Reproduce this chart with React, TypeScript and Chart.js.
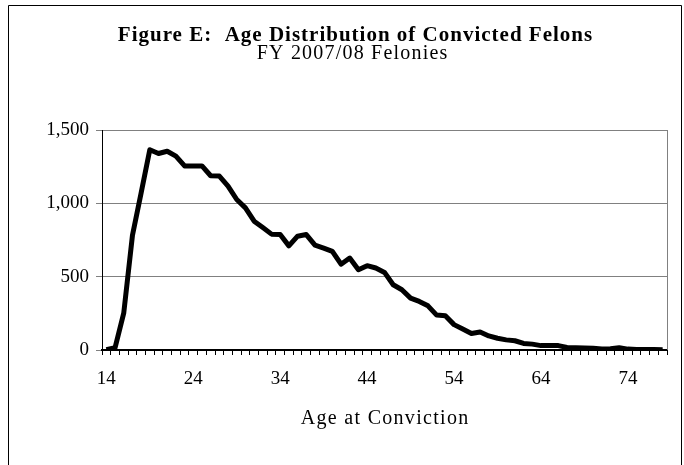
import React, { useEffect, useRef } from 'react';
import { Chart, registerables } from 'chart.js';

Chart.register(...registerables);

const ages = [
  '14', '15', '16', '17', '18', '19', '20', '21', '22', '23',
  '24', '25', '26', '27', '28', '29', '30', '31', '32', '33',
  '34', '35', '36', '37', '38', '39', '40', '41', '42', '43',
  '44', '45', '46', '47', '48', '49', '50', '51', '52', '53',
  '54', '55', '56', '57', '58', '59', '60', '61', '62', '63',
  '64', '65', '66', '67', '68', '69', '70', '71', '72', '73',
  '74', '75', '76', '77', '78',
];

const convictedFelons = [
  2, 15, 251, 780, 1070, 1365, 1340, 1355, 1322, 1255,
  1255, 1255, 1188, 1186, 1118, 1026, 969, 878, 835, 790,
  787, 710, 776, 787, 715, 695, 673, 585, 627, 547,
  575, 559, 529, 445, 411, 354, 331, 301, 238, 233,
  173, 143, 113, 123, 96, 80, 69, 63, 45, 40,
  30, 30, 30, 17, 15, 14, 12, 7, 8, 16,
  6, 4, 4, 3, 2,
];

const xTickLabels = ['14', '24', '34', '44', '54', '64', '74'];
const yTickValues = [0, 500, 1000, 1500];

const titleText = 'Figure E:  Age Distribution of Convicted Felons';
const subtitleText = 'FY 2007/08 Felonies';
const xAxisTitle = 'Age at Conviction';

const FONT = "'Liberation Serif', 'Times New Roman', serif";

function drawSpacedText(ctx: any, text: string, cx: number, cy: number, font: string, spacing: number) {
  ctx.save();
  ctx.font = font;
  ctx.fillStyle = '#000000';
  ctx.textBaseline = 'middle';
  ctx.textAlign = 'left';
  if ('letterSpacing' in ctx) {
    ctx.letterSpacing = spacing + 'px';
    const w = ctx.measureText(text).width - spacing;
    ctx.fillText(text, cx - w / 2, cy);
  } else {
    const w = ctx.measureText(text).width;
    ctx.fillText(text, cx - w / 2, cy);
  }
  ctx.restore();
}

const framePlugin = {
  id: 'frame',
  beforeDraw(chart: any) {
    const ctx = chart.ctx;
    ctx.save();
    ctx.fillStyle = '#ffffff';
    ctx.fillRect(0, 0, chart.width, chart.height);
    ctx.strokeStyle = '#000000';
    ctx.lineWidth = 1;
    ctx.beginPath();
    ctx.moveTo(8.5, chart.height + 5);
    ctx.lineTo(8.5, 5.5);
    ctx.lineTo(681.5, 5.5);
    ctx.lineTo(681.5, chart.height + 5);
    ctx.stroke();
    ctx.restore();
  },
  beforeDatasetsDraw(chart: any) {
    const { ctx, chartArea } = chart;
    ctx.save();
    ctx.strokeStyle = '#808080';
    ctx.lineWidth = 1;
    ctx.beginPath();
    const x = Math.round(chartArea.right) + 0.5;
    ctx.moveTo(x, chartArea.top);
    ctx.lineTo(x, chartArea.bottom);
    ctx.stroke();
    ctx.restore();
  },
  afterDraw(chart: any) {
    const { ctx, chartArea } = chart;
    drawSpacedText(ctx, titleText, 355, 36, `bold 21px ${FONT}`, 1);
    drawSpacedText(ctx, subtitleText, 352, 54, `20px ${FONT}`, 1.2);
    drawSpacedText(ctx, xAxisTitle, (chartArea.left + chartArea.right) / 2, 419, `20px ${FONT}`, 1.3);
  },
};

export default function App() {
  const canvasRef = useRef<HTMLCanvasElement | null>(null);

  useEffect(() => {
    if (!canvasRef.current) return;
    const chart = new Chart(canvasRef.current, {
      type: 'line',
      data: {
        labels: ages,
        datasets: [
          {
            label: 'Convicted Felons',
            data: convictedFelons,
            borderColor: '#000000',
            backgroundColor: '#000000',
            borderWidth: 5,
            borderJoinStyle: 'round',
            pointRadius: 0,
            pointHoverRadius: 0,
            tension: 0,
            fill: false,
          },
        ],
      },
      options: {
        responsive: false,
        animation: false,
        layout: { padding: { left: 39, right: 17, top: 130, bottom: 0 } },
        plugins: {
          legend: { display: false },
          tooltip: { enabled: false },
          title: { display: false },
          subtitle: { display: false },
        },
        scales: {
          x: {
            type: 'category',
            offset: true,
            afterFit(scale: any) {
              scale.height = 115;
            },
            grid: {
              display: true,
              drawOnChartArea: false,
              drawTicks: true,
              tickLength: 5,
              color: '#000000',
              lineWidth: 1,
              offset: true,
            },
            border: { display: true, color: '#000000', width: 2 },
            ticks: {
              autoSkip: false,
              maxRotation: 0,
              minRotation: 0,
              padding: 13,
              color: '#000000',
              font: { family: FONT, size: 19 },
              callback: (_v: any, i: number) => (xTickLabels.includes(ages[i]) ? ages[i] : ''),
            },
            title: { display: false, text: xAxisTitle },
          },
          y: {
            min: 0,
            max: 1500,
            afterFit(scale: any) {
              scale.width = 63;
            },
            afterBuildTicks(scale: any) {
              scale.ticks = yTickValues.map((v) => ({ value: v }));
            },
            grid: {
              color: '#808080',
              lineWidth: 1,
              drawTicks: true,
              tickLength: 6,
            },
            border: { display: true, color: '#000000', width: 1 },
            ticks: {
              padding: 7,
              color: '#000000',
              font: { family: FONT, size: 19 },
              callback: (v: any) => Number(v).toLocaleString('en-US'),
            },
          },
        },
      },
      plugins: [framePlugin],
    });
    return () => chart.destroy();
  }, []);

  return (
    <div style={{ position: 'absolute', left: 0, top: 0, width: 684, height: 465, background: '#fff' }}>
      <canvas ref={canvasRef} width={684} height={465} style={{ width: 684, height: 465, display: 'block' }} />
    </div>
  );
}
